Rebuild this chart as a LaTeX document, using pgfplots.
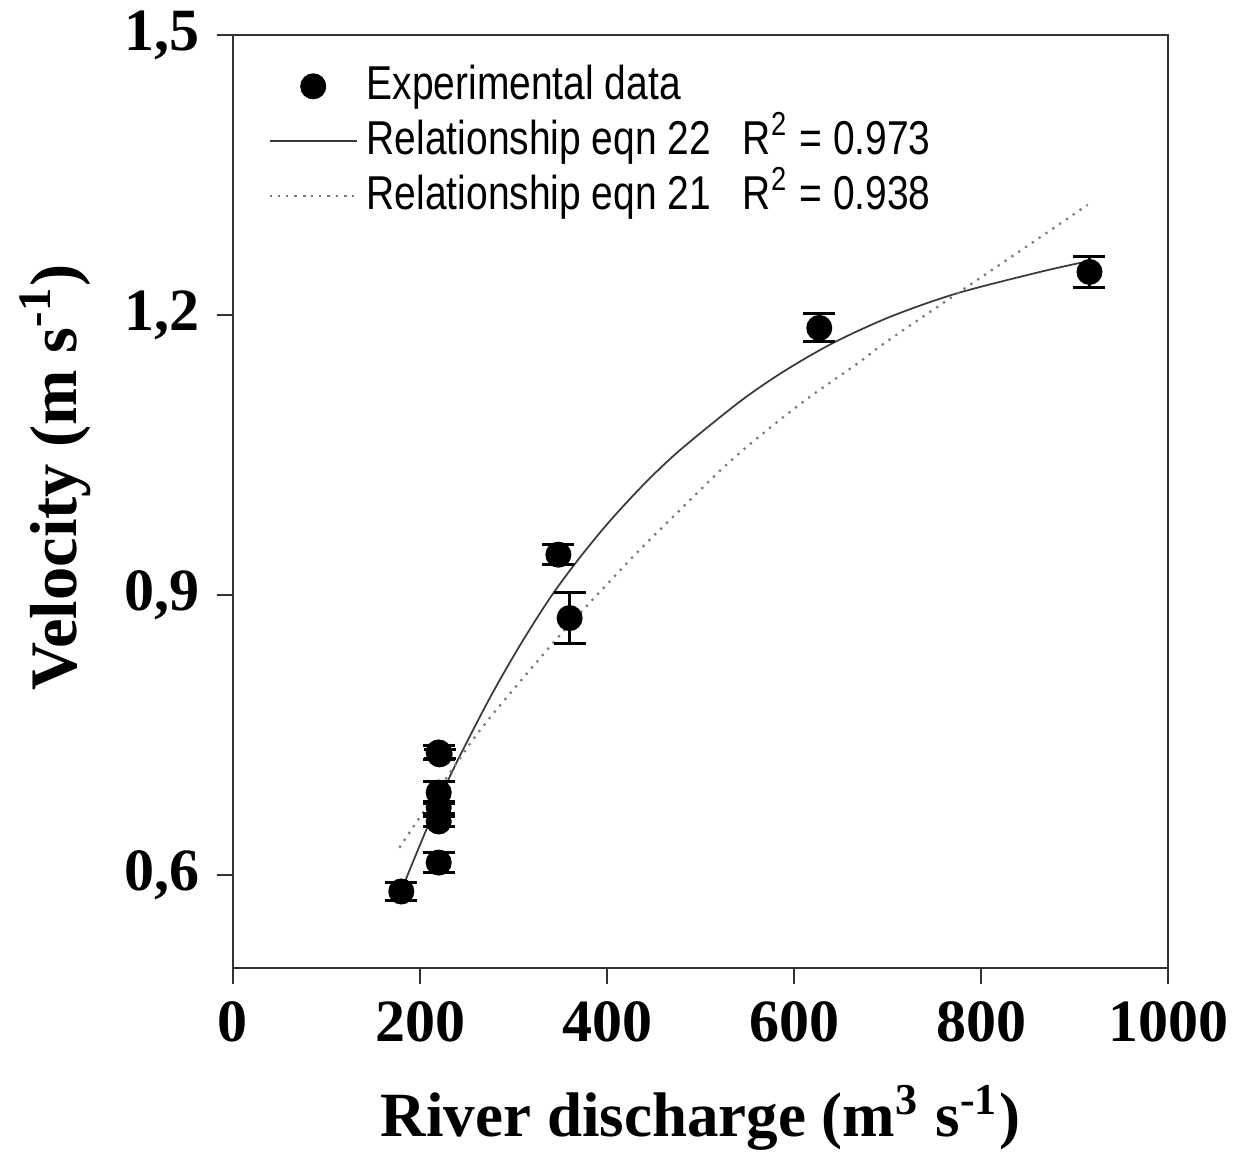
\documentclass[border=0pt]{standalone}
\usepackage{pgfplots}
\pgfplotsset{compat=1.18}
\usepackage{fontspec}
\setmainfont{Liberation Serif}
\newfontfamily\legfont[FakeStretch=0.82]{Liberation Sans}
\definecolor{axisgray}{HTML}{333333}
\definecolor{fitsolid}{HTML}{3A3A3A}
\definecolor{fitdot}{HTML}{7A7A7A}

\begin{document}
\begin{tikzpicture}
\useasboundingbox (-46.6pt,-38pt) rectangle ++(247.8pt,231.6pt);
\begin{axis}[
  at={(0pt,0pt)}, anchor=south west,
  scale only axis,
  width=187pt, height=186.6pt,
  xmin=0, xmax=1000, ymin=0.5, ymax=1.5,
  xtick={0,200,...,1000},
  ytick={0.6,0.9,1.2,1.5},
  xtick pos=left, ytick pos=left,
  tick align=outside,
  major tick length=3.2pt,
  axis line style={axisgray, line width=0.45pt},
  tick style={axisgray, line width=0.45pt},
  /pgf/number format/assume math mode=true,
  /pgf/number format/1000 sep={},
  tick label style={font=\bfseries\fontsize{12}{14}\selectfont},
  yticklabel style={/pgf/number format/.cd, fixed, fixed zerofill, precision=1, use comma},
  xlabel={River discharge (m\textsuperscript{3} s\textsuperscript{-1})},
  ylabel={Velocity (m s\textsuperscript{-1})},
  every axis x label/.style={at={(axis description cs:0.5,-0.161)}, anchor=center,
    font=\bfseries\fontsize{12.6}{14}\selectfont},
  every axis y label/.style={at={(axis description cs:-0.19,0.526)}, rotate=90, anchor=center,
    font=\bfseries\fontsize{13.3}{15}\selectfont},
  legend style={draw=none, fill=none, at={(axis description cs:0.037,0.9755)}, anchor=north west,
    font=\legfont\fontsize{9.5}{11}\selectfont, row sep=0pt, column sep=1pt, inner sep=0pt,
    nodes={inner sep=0.8pt, text height=7.4pt, text depth=2pt}},
  legend cell align=left,
  legend image code/.code={\draw[mark repeat=2,mark phase=2,#1] plot coordinates {(0pt,0pt) (8.7pt,0pt) (17.4pt,0pt)};},
]
\addlegendimage{only marks, mark=*, mark size=2.4pt, black}
\addlegendentry{Experimental data}

% Relationship eqn 22
\addplot[fitsolid, line width=0.35pt, smooth] coordinates {
  (180,0.583) (200,0.632) (220,0.679) (240,0.722) (275,0.790) (307,0.846)
  (340,0.898) (371,0.940) (403,0.979) (440,1.019) (478,1.055) (542,1.107)
  (590,1.140) (642,1.170) (703,1.198) (774,1.223) (863,1.246) (912,1.257)
};
\addlegendentry{Relationship eqn 22\hspace{4.2pt} R\textsuperscript{2} = 0.973}

% Relationship eqn 21
\addplot[fitdot, line width=0.45pt, dash pattern=on 0.45pt off 1.2pt, smooth] coordinates {
  (178,0.629) (240,0.721) (273,0.766) (342,0.848) (382,0.892) (430,0.943)
  (464,0.977) (535,1.046) (606,1.104) (668,1.148) (700,1.172) (785,1.230)
  (863,1.283) (914,1.318)
};
\addlegendentry{Relationship eqn 21\hspace{4.2pt} R\textsuperscript{2} = 0.938}

% experimental data
\addplot[only marks, mark=*, mark size=2.4pt, black, forget plot,
  error bars/.cd, y dir=both, y explicit,
  error bar style={line width=0.5pt, black},
  error mark options={rotate=90, mark size=3.2pt, line width=0.6pt, black}]
coordinates {
  (180,0.582) +- (0,0.0095)
  (220,0.613) +- (0,0.011)
  (220,0.657) +- (0,0.005)
  (220,0.672) +- (0,0.006)
  (220,0.688) +- (0,0.012)
  (220,0.731) +- (0,0.008)
  (221,0.729) +- (0,0.005)
  (348,0.943) +- (0,0.011)
  (360,0.875) +- (0,0.027)
  (627,1.186) +- (0,0.015)
  (916,1.246) +- (0,0.017)
};
\end{axis}
\end{tikzpicture}
\end{document}
